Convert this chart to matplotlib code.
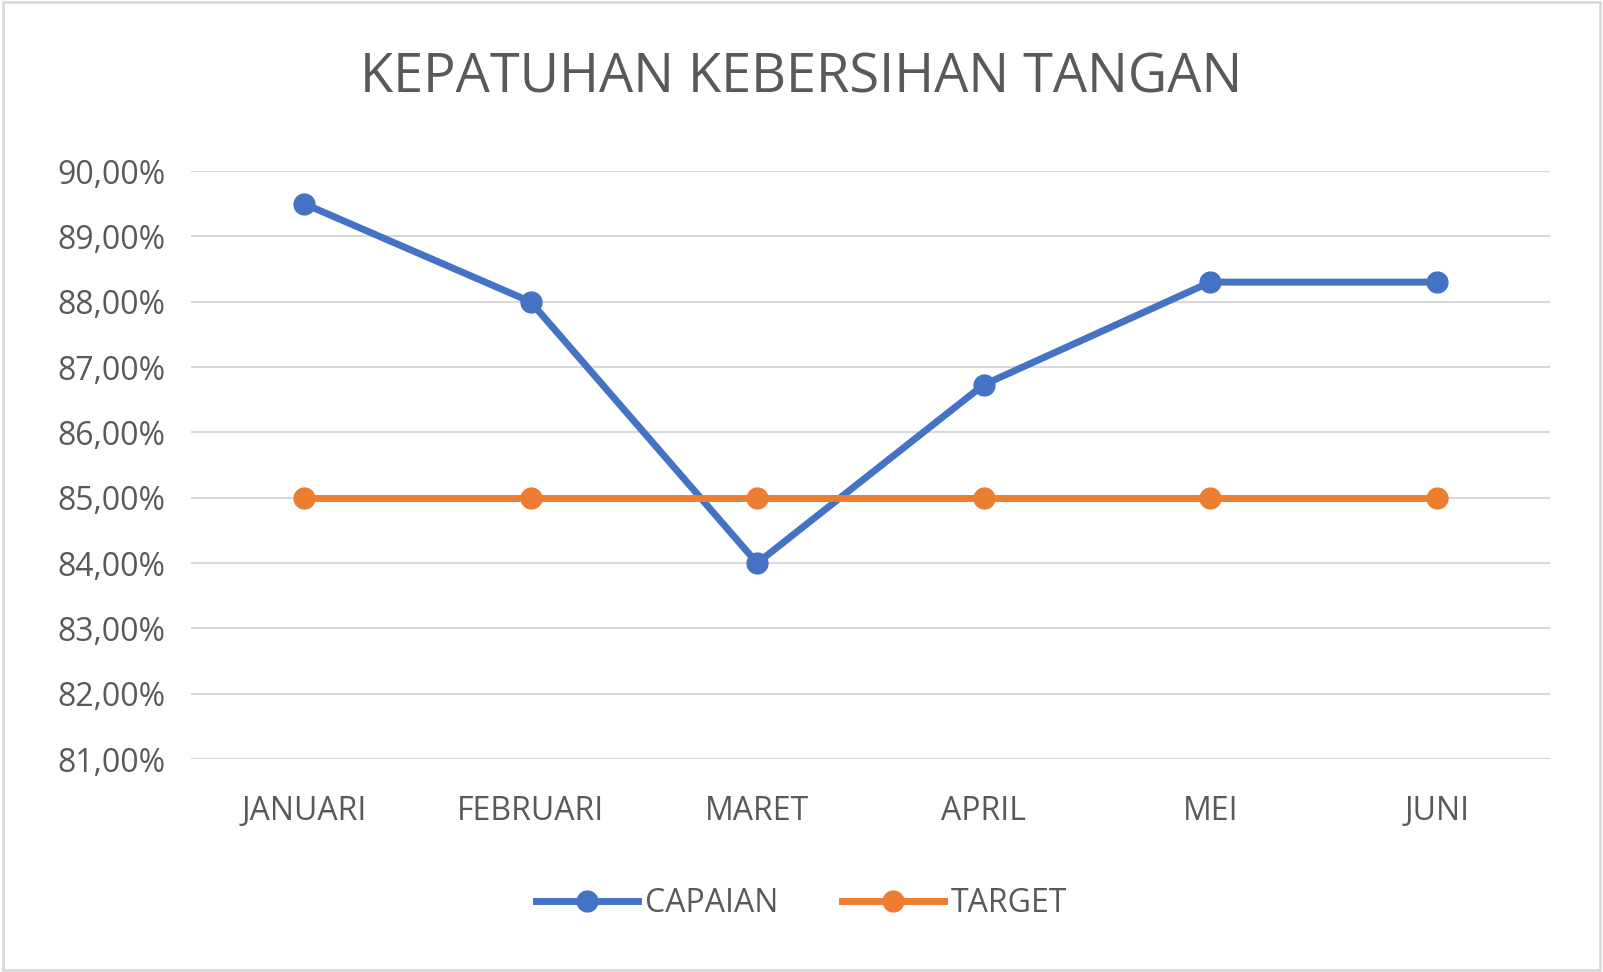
import matplotlib
matplotlib.use("Agg")
import matplotlib.pyplot as plt
from matplotlib.ticker import FuncFormatter
from matplotlib.patches import Rectangle

plt.rcParams['font.family'] = ['Open Sans', 'DejaVu Sans']

months = ["JANUARI", "FEBRUARI", "MARET", "APRIL", "MEI", "JUNI"]
capaian = [89.5, 88.0, 84.0, 86.73, 88.3, 88.3]
target = [85.0, 85.0, 85.0, 85.0, 85.0, 85.0]

fig = plt.figure(figsize=(16.03, 9.72), dpi=100)
ax = fig.add_axes([0.119, 0.219, 0.848, 0.605])
x = range(len(months))
ax.plot(x, capaian, color='#4472C4', lw=5, marker='o', ms=15, label='CAPAIAN', zorder=3)
ax.plot(x, target, color='#ED7D31', lw=5, marker='o', ms=15, label='TARGET', zorder=3)
ax.set_xlim(-0.5, 5.5)
ax.set_ylim(81, 90)
ax.set_yticks(range(81, 91))
ax.yaxis.set_major_formatter(FuncFormatter(lambda v, p: f"{v:.2f}%".replace('.', ',')))
ax.set_xticks(list(x))
ax.set_xticklabels(months)
ax.grid(axis='y', color='#D9D9D9', lw=1.5)
ax.set_axisbelow(True)
for s in ax.spines.values():
    s.set_visible(False)
ax.tick_params(length=0, labelsize=23, colors='#595959', pad=18)
ax.tick_params(axis='x', pad=26)
fig.text(0.5, 0.92, "KEPATUHAN KEBERSIHAN TANGAN", fontsize=39, color='#595959',
         ha='center', va='center')
fig.legend(loc='center', bbox_to_anchor=(0.5, 0.07), ncol=2, frameon=False,
           fontsize=23, labelcolor='#595959', handlelength=3.2, columnspacing=2.0, handletextpad=0.2)
fig.patches.append(Rectangle((0.002, 0.002), 0.996, 0.996, transform=fig.transFigure,
                             fill=False, edgecolor='#D9D9D9', lw=2))
fig.savefig("out.png", dpi=100)
